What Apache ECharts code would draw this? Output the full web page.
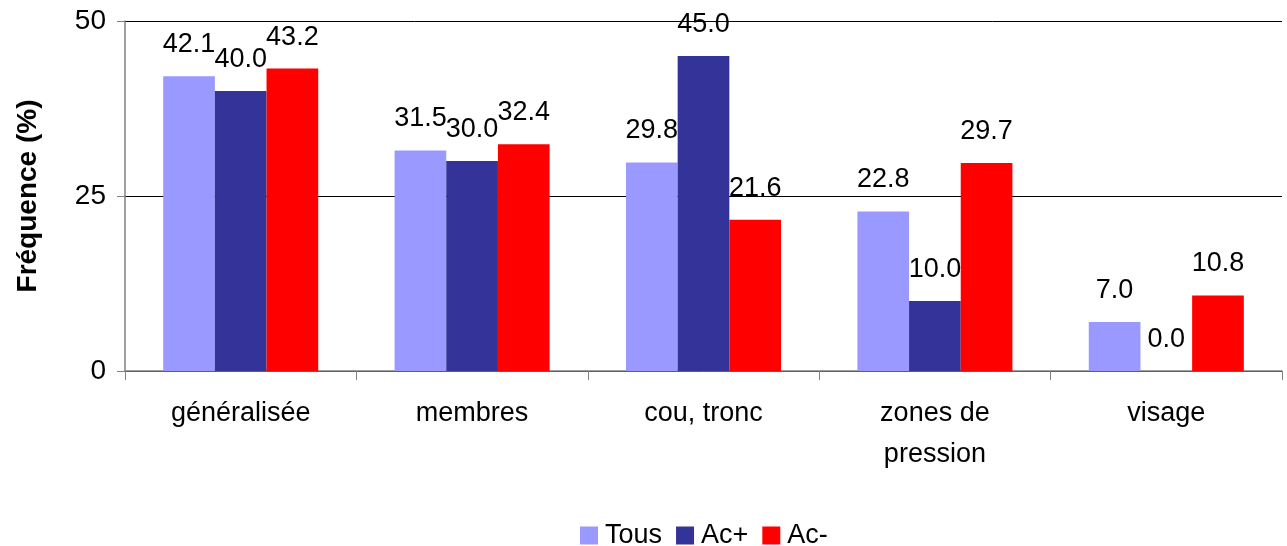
<!DOCTYPE html>
<html><head><meta charset="utf-8">
<script src="https://cdn.jsdelivr.net/npm/echarts@6/dist/echarts.min.js"></script>
<style>html,body{margin:0;padding:0;background:#fff}#c{width:1287px;height:546px}</style>
</head><body><div id="c"></div>
<script>
var categories = ['généralisée', 'membres', 'cou, tronc', 'zones de\npression', 'visage'];
var tous = [42.1, 31.5, 29.8, 22.8, 7.0];
var acPlus = [40.0, 30.0, 45.0, 10.0, 0.0];
var acMinus = [43.2, 32.4, 21.6, 29.7, 10.8];
var yTicks = [0, 25, 50];

var font = 'Liberation Sans, Arial, sans-serif';
var chart = echarts.init(document.getElementById('c'), null, {renderer: 'canvas'});
function lbl() {
  return {show: true, position: 'top', distance: 18, color: '#000', fontFamily: font, fontSize: 27,
    formatter: function (p) { return p.value.toFixed(1); }};
}
chart.setOption({
  animation: false,
  textStyle: {fontFamily: font},
  grid: {left: 125, right: 5, top: 21, bottom: 175, containLabel: false},
  legend: {
    top: 517, left: 575, itemWidth: 18, itemHeight: 18, itemGap: 14, icon: 'rect',
    textStyle: {fontFamily: font, fontSize: 27, color: '#000', padding: [0, 0, 0, 2]},
    data: ['Tous', 'Ac+', 'Ac-']
  },
  xAxis: {
    type: 'category', data: categories,
    axisLine: {lineStyle: {color: '#808080', width: 1.5}},
    axisTick: {show: true, length: 9, lineStyle: {color: '#808080'}},
    axisLabel: {color: '#000', fontFamily: font, fontSize: 27, margin: 22, lineHeight: 41, interval: 0}
  },
  yAxis: {
    type: 'value', min: yTicks[0], max: yTicks[yTicks.length - 1], interval: 25,
    name: 'Fréquence (%)', nameLocation: 'middle', nameGap: 83, nameRotate: 90,
    nameTextStyle: {fontFamily: font, fontSize: 28, fontWeight: 'bold', color: '#000'},
    axisLine: {show: true, lineStyle: {color: '#808080', width: 1.5}},
    axisTick: {show: true, length: 8, lineStyle: {color: '#808080'}},
    axisLabel: {color: '#000', fontFamily: font, fontSize: 28, margin: 19},
    splitLine: {show: true, lineStyle: {color: '#000', width: 1}}
  },
  series: [
    {name: 'Tous', type: 'bar', data: tous, barGap: '0%', barCategoryGap: '33%', itemStyle: {color: '#9999FF'}, label: lbl()},
    {name: 'Ac+', type: 'bar', data: acPlus, itemStyle: {color: '#333399'}, label: lbl()},
    {name: 'Ac-', type: 'bar', data: acMinus, itemStyle: {color: '#FF0000'}, label: lbl()}
  ]
});
</script></body></html>
